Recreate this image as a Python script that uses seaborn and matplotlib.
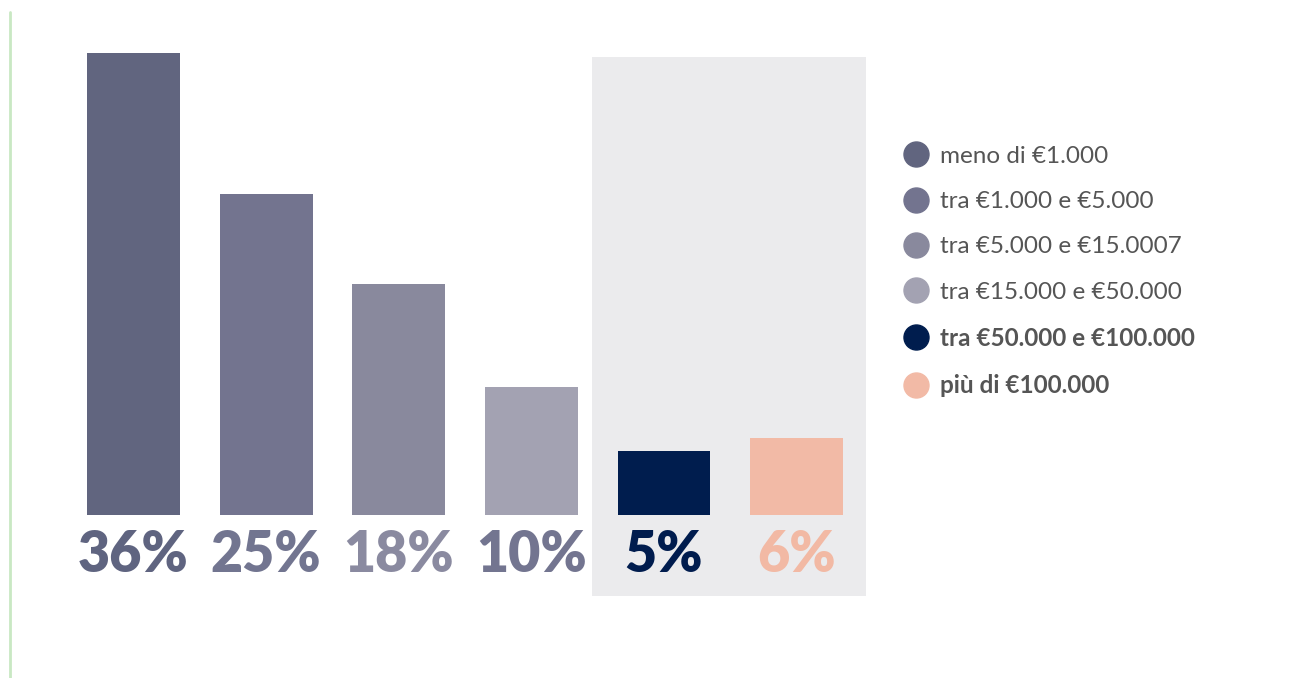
import matplotlib
matplotlib.use("Agg")
import matplotlib.pyplot as plt
from matplotlib.patches import Rectangle
from matplotlib.lines import Line2D
import seaborn as sns
import pandas as pd

# Fasce di patrimonio e quota di rispondenti
categories = ["meno di €1.000", "tra €1.000 e €5.000", "tra €5.000 e €15.0007",
              "tra €15.000 e €50.000", "tra €50.000 e €100.000", "più di €100.000"]
shares = [36, 25, 18, 10, 5, 6]
bar_colors = ["#61657f", "#73748f", "#89899d", "#a3a2b2", "#001d4e", "#f2baa6"]
label_colors = ["#5f6480", "#727590", "#8a8aa0", "#737590", "#001c4e", "#f2b9a4"]
bold_items = [False, False, False, False, True, True]

sns.set_theme(style="white")
plt.rcParams["font.family"] = ["Lato", "DejaVu Sans"]

W, H = 1298, 678
fig = plt.figure(figsize=(W / 100, H / 100), dpi=100)
fig.patch.set_facecolor("white")

# Highlighted panel behind the two top brackets
fig.patches.append(Rectangle((592 / W, 1 - 596 / H), (866 - 592) / W, (596 - 57) / H,
                             transform=fig.transFigure, facecolor="#ebebed",
                             edgecolor="none", zorder=-2))
# Thin green rule on the left edge
fig.add_artist(Line2D([10 / W, 10 / W], [0, 1 - 12 / H], transform=fig.transFigure,
                      color="#c9e8c3", lw=2, zorder=-2))

ax = fig.add_axes([67.2 / W, 163 / H, 795.8 / W, 462 / H])
ax.patch.set_alpha(0)
ax.set_zorder(1)

df = pd.DataFrame({"fascia": categories, "quota": shares})
sns.barplot(data=df, x="fascia", y="quota", hue="fascia", palette=bar_colors,
            order=categories, hue_order=categories, width=0.70, legend=False,
            saturation=1, linewidth=0, edgecolor="none", ax=ax)

ax.set_xlim(-0.5, 5.5)
ax.set_ylim(0, 36)
ax.axis("off")

for i, (v, c) in enumerate(zip(shares, label_colors)):
    ax.annotate(f"{v}%", xy=(i, 0), xytext=(0, -29), textcoords="offset points",
                ha="center", va="center", fontsize=40, fontweight="heavy",
                color=c, annotation_clip=False)

handles = [Line2D([], [], marker="o", linestyle="none", markersize=18,
                  markerfacecolor=c, markeredgecolor=c) for c in bar_colors]
leg = fig.legend(handles, categories, loc="upper left",
                 bbox_to_anchor=(893 / W, 1 - 136 / H), frameon=False,
                 fontsize=17.5, labelspacing=1.0, handletextpad=0.45,
                 handlelength=1.1, borderaxespad=0)
leg.set_zorder(2)
for t, b in zip(leg.get_texts(), bold_items):
    t.set_color("#555555")
    if b:
        t.set_fontweight("bold")

fig.savefig("out.png", dpi=100, facecolor="white")
